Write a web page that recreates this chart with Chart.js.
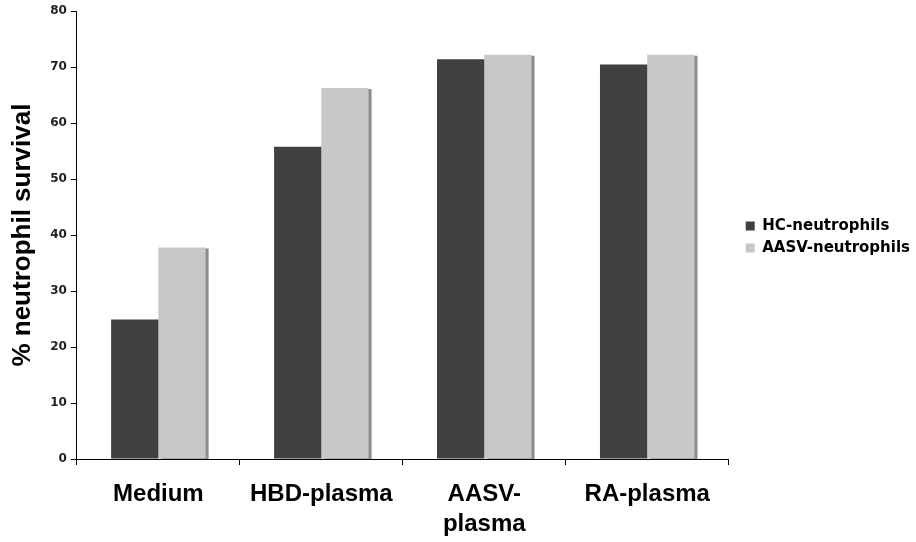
<!DOCTYPE html>
<html>
<head>
<meta charset="utf-8">
<script src="https://cdn.jsdelivr.net/npm/chart.js@4/dist/chart.umd.min.js"></script>
<style>
  html, body { margin: 0; padding: 0; background: #fff; }
  #wrap { width: 916px; height: 542px; }
</style>
</head>
<body>
<div id="wrap"><canvas id="myChart" width="916" height="542"></canvas></div>
<script>
// categories and series
const categories = ['Medium', 'HBD-plasma', ['AASV-', 'plasma'], 'RA-plasma'];
const hcNeutrophils = [24.9, 55.8, 71.4, 70.5];
const aasvNeutrophils = [37.8, 66.3, 72.2, 72.2];
const yTicks = [0, 10, 20, 30, 40, 50, 60, 70, 80];

// gray drop shadow on the right of the light bars
const barShadow = {
    id: 'barShadow',
    beforeDatasetDraw(chart, args) {
        if (args.index !== 1) return;
        const ctx = chart.ctx;
        ctx.save();
        ctx.shadowColor = '#8c8c8c';
        ctx.shadowOffsetX = 3;
        ctx.shadowOffsetY = 1;
        ctx.shadowBlur = 0;
    },
    afterDatasetDraw(chart, args) {
        if (args.index !== 1) return;
        chart.ctx.restore();
    }
};

// the legend sits a bit higher and further right than Chart.js puts it
const legendNudge = {
    id: 'legendNudge',
    afterLayout(chart) {
        const lg = chart.legend;
        lg.left += 10; lg.right += 10;
        lg.top -= 38; lg.bottom -= 38;
    }
};

const ctx = document.getElementById('myChart');
const chart = new Chart(ctx, {
    type: 'bar',
    data: {
        labels: categories,
        datasets: [{
            label: 'HC-neutrophils',
            backgroundColor: '#404040',
            data: hcNeutrophils
        }, {
            label: 'AASV-neutrophils',
            backgroundColor: '#c8c8c8',
            data: aasvNeutrophils
        }]
    },
    plugins: [barShadow, legendNudge],
    options: {
        responsive: false,
        animation: false,
        layout: { padding: { top: 11, right: 6, bottom: 3, left: 7 } },
        datasets: {
            bar: { categoryPercentage: 0.58, barPercentage: 1.0 }
        },
        plugins: {
            tooltip: { enabled: false },
            legend: {
                position: 'right',
                labels: {
                    boxWidth: 9,
                    boxHeight: 9,
                    padding: 7,
                    color: '#000',
                    font: { family: 'DejaVu Sans', weight: 'bold', size: 15 }
                }
            }
        },
        scales: {
            x: {
                afterFit(axis) { axis.height = 80; },
                grid: {
                    drawOnChartArea: false,
                    offset: true,
                    color: '#000',
                    tickLength: 6
                },
                border: { color: '#000', width: 1 },
                ticks: {
                    color: '#000',
                    padding: 14,
                    maxRotation: 0,
                    font: { family: 'Liberation Sans', weight: 'bold', size: 24, lineHeight: 1.25 }
                }
            },
            y: {
                min: 0,
                max: 80,
                afterBuildTicks(axis) {
                    axis.ticks = yTicks.map(v => ({ value: v }));
                },
                grid: {
                    drawOnChartArea: false,
                    color: '#000',
                    tickLength: 6
                },
                border: { color: '#000', width: 1 },
                ticks: {
                    color: '#222',
                    padding: 4,
                    font: { family: 'DejaVu Sans', weight: 'bold', size: 12 }
                },
                title: {
                    display: true,
                    text: '% neutrophil survival',
                    color: '#000',
                    padding: { top: 0, bottom: 8 },
                    font: { family: 'Liberation Sans', weight: 'bold', size: 26 }
                }
            }
        }
    }
});
</script>
</body>
</html>
